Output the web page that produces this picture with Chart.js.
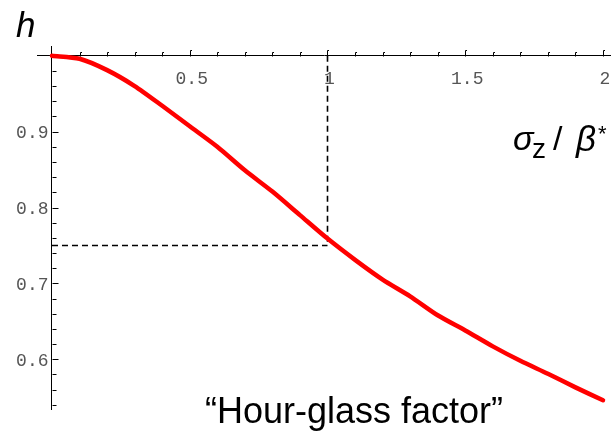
<!DOCTYPE html>
<html>
<head>
<meta charset="utf-8">
<script src="https://cdn.jsdelivr.net/npm/chart.js@4/dist/chart.umd.min.js"></script>
<style>
  html, body { margin: 0; padding: 0; background: #fff; }
  #wrap { width: 611px; height: 431px; }
</style>
</head>
<body>
<div id="wrap"><canvas id="c" width="611" height="431"></canvas></div>
<script>
// sigma_z / beta* on the horizontal axis
const ratio = [0, 0.1, 0.2, 0.3, 0.4, 0.5, 0.6, 0.7, 0.8, 0.9, 1.0,
               1.1, 1.2, 1.3, 1.4, 1.5, 1.6, 1.7, 1.8, 1.9, 2.0];
// hour-glass reduction factor h
const hFactor = [1.000, 0.996, 0.981, 0.960, 0.934, 0.907, 0.880, 0.849, 0.821, 0.790, 0.759,
                 0.731, 0.705, 0.683, 0.658, 0.638, 0.617, 0.598, 0.581, 0.563, 0.546];

// axis ticks
const xTicks = [0.1, 0.2, 0.3, 0.4, 0.5, 0.6, 0.7, 0.8, 0.9, 1, 1.1, 1.2, 1.3, 1.4, 1.5,
                1.6, 1.7, 1.8, 1.9, 2];
const xTickLabels = [0.5, 1, 1.5, 2];
const yTicks = [0.54, 0.56, 0.58, 0.6, 0.62, 0.64, 0.66, 0.68, 0.7, 0.72, 0.74, 0.76, 0.78,
                0.8, 0.82, 0.84, 0.86, 0.88, 0.9, 0.92, 0.94, 0.96, 0.98];
const yTickLabels = [0.6, 0.7, 0.8, 0.9];

// reference point marked with dashed guides
const guideRatio = [1, 1];
const guideH = [1, 0.75];
const guideRatio2 = [0, 1];
const guideH2 = [0.75, 0.75];

const pts = (xs, ys) => xs.map((x, i) => ({ x: x, y: ys[i] }));

const MONO = '"Liberation Mono", "DejaVu Sans Mono", monospace';
const SANS = '"Liberation Sans", Arial, sans-serif';

const decorations = {
  id: 'decorations',
  afterDraw(chart) {
    const ctx = chart.ctx;
    const xs = chart.scales.x, ys = chart.scales.y;
    const x0 = Math.round(xs.getPixelForValue(0)) + 0.5;
    const y1 = Math.round(ys.getPixelForValue(1)) + 0.5;
    ctx.save();
    ctx.strokeStyle = '#000';
    ctx.lineWidth = 1;
    // tick marks on the horizontal axis, pointing up
    xTicks.forEach(v => {
      const px = Math.round(xs.getPixelForValue(v)) + 0.5;
      const len = xTickLabels.includes(v) ? 6 : 4;
      ctx.beginPath();
      ctx.moveTo(px, y1);
      ctx.lineTo(px, y1 - len);
      ctx.lineTo(px + 1.5, y1 - len);
      ctx.stroke();
    });
    // tick marks on the vertical axis, pointing right
    yTicks.forEach(v => {
      const py = Math.round(ys.getPixelForValue(v)) + 0.5;
      const len = yTickLabels.some(t => Math.abs(t - v) < 1e-9) ? 6 : 4;
      ctx.beginPath();
      ctx.moveTo(x0, py);
      ctx.lineTo(x0 + len, py);
      ctx.stroke();
    });
    // vertical axis labels
    ctx.fillStyle = '#555';
    ctx.font = '18px ' + MONO;
    ctx.textAlign = 'right';
    ctx.textBaseline = 'middle';
    yTickLabels.forEach(v => {
      ctx.fillText(String(v), x0 - 4, ys.getPixelForValue(v) + 2);
    });

    // axis titles
    ctx.fillStyle = '#000';
    ctx.textAlign = 'left';
    ctx.textBaseline = 'alphabetic';
    ctx.font = 'italic 35px ' + SANS;
    ctx.fillText('h', 16, 37);

    ctx.font = 'italic 34px ' + SANS;
    ctx.fillText('σ', 513, 150);
    ctx.font = '28px ' + SANS;
    ctx.fillText('z', 532, 158);
    ctx.font = '34px ' + SANS;
    ctx.fillText('/', 553, 150);
    ctx.font = 'italic 35px ' + SANS;
    ctx.fillText('β', 576, 151);
    ctx.font = '22px ' + SANS;
    ctx.fillText('*', 598, 141);

    ctx.font = '36px ' + SANS;
    ctx.fillText('\u201CHour-glass factor\u201D', 205, 423);
    ctx.restore();
  }
};

new Chart(document.getElementById('c'), {
  type: 'scatter',
  data: {
    datasets: [
      {
        data: pts(ratio, hFactor),
        showLine: true,
        borderColor: '#ff0000',
        borderWidth: 4.5,
        pointRadius: 0,
        tension: 0.25,
        borderCapStyle: 'round',
        borderJoinStyle: 'round',
        order: 0
      },
      {
        data: pts(guideRatio, guideH),
        showLine: true,
        borderColor: '#000',
        borderWidth: 1.6,
        borderDash: [6, 4],
        pointRadius: 0,
        order: 1
      },
      {
        data: pts(guideRatio2, guideH2),
        showLine: true,
        borderColor: '#000',
        borderWidth: 1.6,
        borderDash: [6, 4],
        pointRadius: 0,
        order: 1
      }
    ]
  },
  options: {
    responsive: false,
    animation: false,
    devicePixelRatio: 1,
    layout: { padding: { left: 37, right: 0, top: 46, bottom: 22 } },
    plugins: { legend: { display: false }, tooltip: { enabled: false }, title: { display: false } },
    scales: {
      x: {
        type: 'linear',
        min: -0.0544,
        max: 2.029,
        position: { y: 1 },
        afterBuildTicks: s => { s.ticks = xTicks.map(v => ({ value: v })); },
        afterFit: s => { s.paddingLeft = 0; s.paddingRight = 0; s.paddingTop = 0; s.paddingBottom = 0; },
        grid: { display: false, drawTicks: false },
        border: { display: true, color: '#000', width: 1 },
        ticks: {
          autoSkip: false,
          maxRotation: 0,
          padding: 13,
          labelOffset: 2,
          color: '#555',
          font: { family: MONO, size: 18 },
          callback: v => (xTickLabels.includes(v) ? String(v) : '')
        }
      },
      y: {
        type: 'linear',
        min: 0.5345,
        max: 1.0128,
        position: { x: 0 },
        afterFit: s => { s.paddingLeft = 0; s.paddingRight = 0; s.paddingTop = 0; s.paddingBottom = 0; },
        grid: { display: false, drawTicks: false },
        border: { display: true, color: '#000', width: 1 },
        ticks: { display: false }
      }
    }
  },
  plugins: [decorations]
});
</script>
</body>
</html>
